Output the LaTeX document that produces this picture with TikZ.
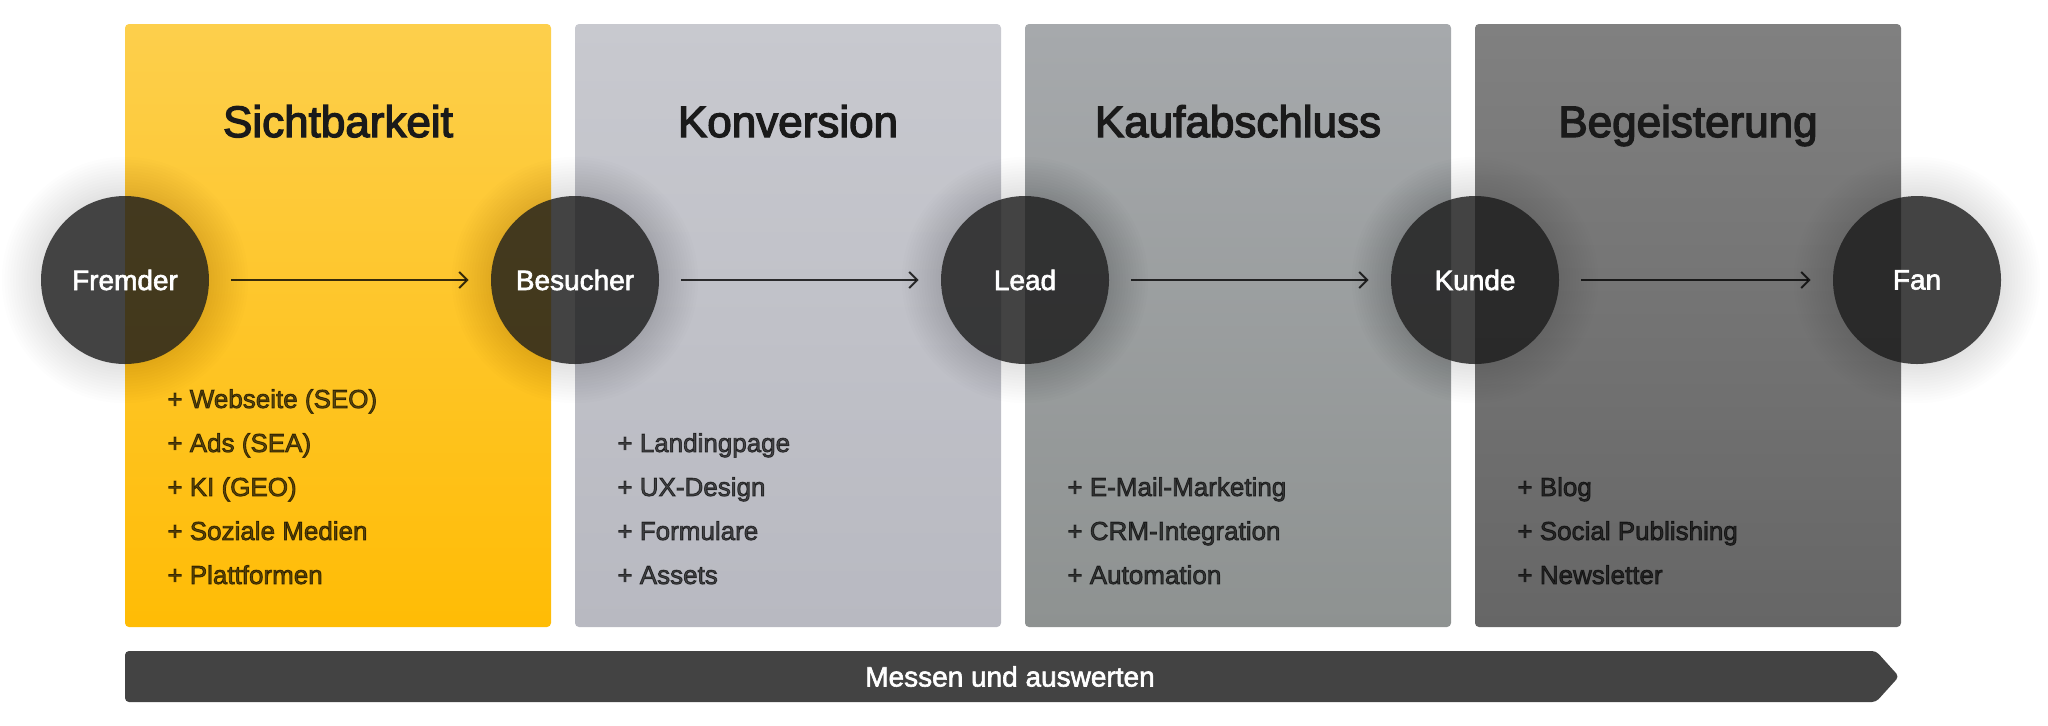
\documentclass[tikz,border=0pt]{standalone}
\usepackage{fontspec}
\setmainfont{Liberation Sans}
\newfontfamily\medfont{Liberation Sans}[FakeBold=3]
\newfontfamily\semfont{Liberation Sans}[FakeBold=2.2]
\usetikzlibrary{arrows.meta}
\definecolor{ytop}{HTML}{FDCF4C}
\definecolor{ybot}{HTML}{FFBC05}
\definecolor{btop}{HTML}{C8C9CF}
\definecolor{bbot}{HTML}{B8B9C1}
\definecolor{ctop}{HTML}{A6A9AC}
\definecolor{cbot}{HTML}{8E9291}
\definecolor{dtop}{HTML}{808080}
\definecolor{dbot}{HTML}{666666}
\definecolor{circcol}{HTML}{1A1A1A}
\definecolor{barcol}{HTML}{434343}
\definecolor{titlecol}{HTML}{1A1A1A}
\tikzset{
  panelbox/.style={rounded corners=2pt},
  circ/.style={circle, minimum size=84pt, inner sep=0pt, fill=circcol, fill opacity=0.82,
    text opacity=1, text=white, font=\semfont\fontsize{14}{16}\selectfont},
  titletext/.style={anchor=base, text=titlecol, font=\medfont\fontsize{22}{26}\selectfont},
  itemtext/.style={anchor=base west, inner sep=0pt, text=black, text opacity=0.64,
    font=\medfont\fontsize{13}{15}\selectfont},
  flowarrow/.style={draw=black, draw opacity=0.78, line width=1pt, shorten <=11pt, shorten >=11pt,
    -{Straight Barb[length=4pt, width=8pt, line width=1pt]}},
  bartext/.style={text=white, font=\semfont\fontsize{14}{16}\selectfont}
}
\begin{document}
\begin{tikzpicture}[x=0.5pt, y=-0.5pt]
\useasboundingbox (0,0) rectangle (2048,725);
% panels
\shade[panelbox, top color=ytop, bottom color=ybot] (125,24) rectangle (551,627);
\shade[panelbox, top color=btop, bottom color=bbot] (575,24) rectangle (1001,627);
\shade[panelbox, top color=ctop, bottom color=cbot] (1025,24) rectangle (1451,627);
\shade[panelbox, top color=dtop, bottom color=dbot] (1475,24) rectangle (1901,627);
% titles
\node[titletext] (t1) at (338,137) {Sichtbarkeit};
\node[titletext] (t2) at (788,137) {Konversion};
\node[titletext] (t3) at (1238,137) {Kaufabschluss};
\node[titletext] (t4) at (1688,137) {Begeisterung};
% item lists
\foreach \txt [count=\i] in {Webseite (SEO), Ads (SEA), KI (GEO), Soziale Medien, Plattformen}
  \node[itemtext] (a\i) at (167,{364+44*\i}) {+ \txt};
\foreach \txt [count=\i] in {Landingpage, UX-Design, Formulare, Assets}
  \node[itemtext] (b\i) at (617,{408+44*\i}) {+ \txt};
\foreach \txt [count=\i] in {E-Mail-Marketing, CRM-Integration, Automation}
  \node[itemtext] (c\i) at (1067,{452+44*\i}) {+ \txt};
\foreach \txt [count=\i] in {Blog, Social Publishing, Newsletter}
  \node[itemtext] (d\i) at (1517,{452+44*\i}) {+ \txt};
% circle glows
\foreach \cx in {125,575,1025,1475,1917}{
  \foreach \k in {1,...,14}{
    \fill[black, opacity=0.009, even odd rule] (\cx,280) circle[radius={84+2.8*\k}] (\cx,280) circle[radius=84];
  }
}
% circles
\node[circ] (fremder) at (125,280) {Fremder};
\node[circ] (besucher) at (575,280) {Besucher};
\node[circ] (lead) at (1025,280) {Lead};
\node[circ] (kunde) at (1475,280) {Kunde};
\node[circ] (fan) at (1917,280) {Fan};
% arrows
\draw[flowarrow] (fremder) -- (besucher);
\draw[flowarrow] (besucher) -- (lead);
\draw[flowarrow] (lead) -- (kunde);
\draw[flowarrow] (kunde) -- (fan);
% bottom bar
\fill[barcol, rounded corners=2pt] (1876,651) -- (125,651) -- (125,702) -- (1876,702) -- (1899,676.5) -- cycle;
\node[bartext] (measure) at (1010,676.5) {Messen und auswerten};
\end{tikzpicture}
\end{document}
